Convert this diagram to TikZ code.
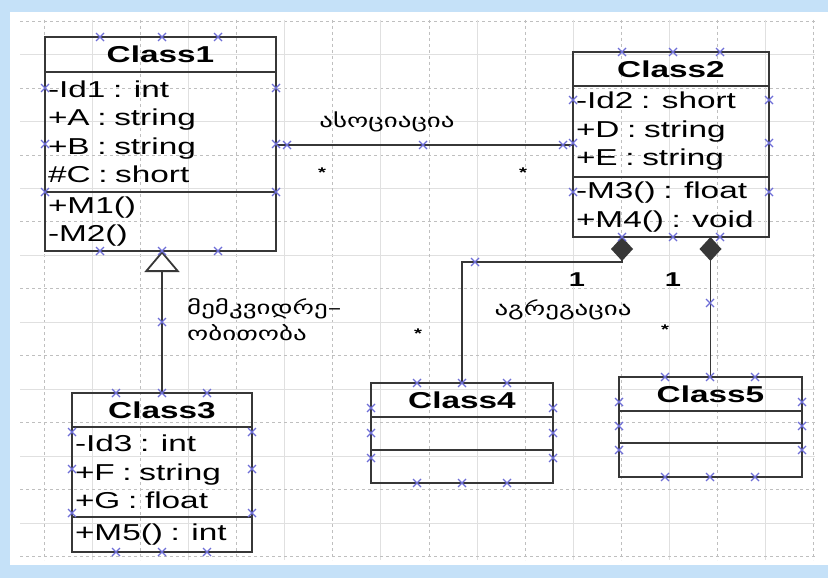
\documentclass[tikz,border=0pt]{standalone}
\usepackage{fontspec}
\setmainfont{Liberation Sans}[FakeStretch=1.45]
\newfontfamily\geofont{DejaVu Sans}[FakeStretch=1.42]
\usetikzlibrary{positioning,arrows.meta,calc}
\definecolor{frameBlue}{RGB}{197,225,248}
\definecolor{ptBlue}{RGB}{110,110,215}
\definecolor{lineGray}{RGB}{55,55,55}

\begin{document}
\begin{tikzpicture}[x=1pt, y=-1pt,
    ctitle/.style={draw=lineGray, line width=1.6pt, outer sep=0pt, inner sep=0pt,
                   anchor=north west, minimum height=34pt,
                   font=\fontsize{23}{28}\selectfont\bfseries},
    cpart/.style={draw=lineGray, line width=1.6pt, outer sep=0pt, inner xsep=3pt,
                  inner ysep=0pt, align=left, font=\fontsize{23}{28.5}\selectfont},
    conn/.style={draw=lineGray, line width=1.8pt},
    geo/.style={font=\geofont\fontsize{19}{26}\selectfont, align=left, inner sep=0pt},
    mult/.style={font=\fontsize{20}{20}\selectfont\bfseries, inner sep=0pt},
    mstar/.style={font=\fontsize{14}{14}\selectfont\bfseries, inner sep=0pt},
    gminor/.style={draw=black!12, line width=0.5pt},
    gmajor/.style={draw=black!25, line width=0.5pt, dashed},
    cpt/.style={draw=ptBlue, line width=1.1pt}
]
    \useasboundingbox (0,0) rectangle (828,578);
    \fill[frameBlue] (0,0) rectangle (828,578);
    \fill[white] (10,12) rectangle (828,565);

    % grid
    \foreach \i in {0,...,16} {
        \pgfmathsetmacro\gx{44+48.1*\i}
        \pgfmathsetmacro\gy{21+33.45*\i}
        \ifodd\i
            \draw[gminor] (\gx,20) -- (\gx,560);
            \draw[gminor] (20,\gy) -- (815,\gy);
        \else
            \draw[gmajor] (\gx,20) -- (\gx,560);
            \draw[gmajor] (20,\gy) -- (815,\gy);
        \fi
    }

    % classes
    \node[ctitle, minimum width=231pt, minimum height=35pt] (c1) at (45,37) {Class1};
    \node[cpart, text width=225pt, minimum height=120pt, below=0pt of c1] (c1a)
        {-Id1 : int\\+A : string\\+B : string\\\#C : short};
    \node[cpart, text width=225pt, minimum height=59pt, below=0pt of c1a] (c1m)
        {+M1()\\-M2()};

    \node[ctitle, minimum width=196pt] (c2) at (573,52) {Class2};
    \node[cpart, text width=190pt, minimum height=91pt, below=0pt of c2] (c2a)
        {-Id2 : short\\+D : string\\+E : string};
    \node[cpart, text width=190pt, minimum height=60pt, below=0pt of c2a] (c2m)
        {-M3() : float\\+M4() : void};

    \node[ctitle, minimum width=180pt] (c3) at (72,393) {Class3};
    \node[cpart, text width=174pt, minimum height=90pt, below=0pt of c3] (c3a)
        {-Id3 : int\\+F : string\\+G : float};
    \node[cpart, text width=174pt, minimum height=35pt, below=0pt of c3a] (c3m)
        {+M5() : int};

    \node[ctitle, minimum width=182pt] (c4) at (371,383) {Class4};
    \node[cpart, text width=176pt, minimum height=33pt, below=0pt of c4] (c4a) {};
    \node[cpart, text width=176pt, minimum height=33pt, below=0pt of c4a] (c4m) {};

    \node[ctitle, minimum width=183pt] (c5) at (619,377) {Class5};
    \node[cpart, text width=177pt, minimum height=32pt, below=0pt of c5] (c5a) {};
    \node[cpart, text width=177pt, minimum height=34pt, below=0pt of c5a] (c5m) {};

    % association
    \coordinate (a1) at ([yshift=-13pt]c1a.east);
    \draw[conn] (a1) -- (a1 -| c2a.west);
    \node[geo] (lassoc) at (387,122) {ასოციაცია};
    \node[mstar] (s1) at (322,173) {*};
    \node[mstar] (s2) at (523,173) {*};

    % inheritance
    \draw[conn, -{Triangle[length=21pt, width=35pt, fill=white]}] (c3.north) -- (c3.north |- c1m.south);
    \node[geo, anchor=west] (linh) at (187,320) {მემკვიდრე–\\ობითობა};
    \node[mstar] (s3) at (418,334) {*};

    % aggregation
    \coordinate (d1) at ($(c2m.south west)!0.25!(c2m.south east)$);
    \draw[conn, -{Diamond[length=24pt, width=22pt]}] (c4.north) |- ([yshift=-25pt]d1) -- (d1);
    \draw[conn, -{Diamond[length=24pt, width=22pt]}] (c5.north) -- (c5.north |- c2m.south);
    \node[mult] (m1) at (577,280) {1};
    \node[mult] (m2) at (673,280) {1};
    \node[geo] (lagg) at (563,310) {აგრეგაცია};
    \node[mstar] (s4) at (665,330) {*};

    % connection points
    \foreach \x/\y in {100/37,162/37,218/37,100/251,162/251,218/251,
                       45/88,45/144,45/192,276/88,276/144,276/192,
                       622/52,673/52,720/52,622/237,673/237,720/237,
                       573/100,573/143,573/192,769/100,769/143,769/192,
                       116/393,162/393,207/393,116/552,162/552,207/552,
                       72/432,72/469,72/513,252/432,252/469,252/513,
                       417/383,462/383,507/383,417/483,462/483,507/483,
                       371/408,371/433,371/458,553/408,553/433,553/458,
                       665/377,710/377,755/377,665/477,710/477,755/477,
                       619/402,619/426,619/450,802/402,802/426,802/450,
                       287/145,423/145,563/145,162/322,475/262,710/303}
        \draw[cpt] (\x,\y) +(-4,-4) -- +(4,4) +(-4,4) -- +(4,-4);
\end{tikzpicture}
\end{document}
